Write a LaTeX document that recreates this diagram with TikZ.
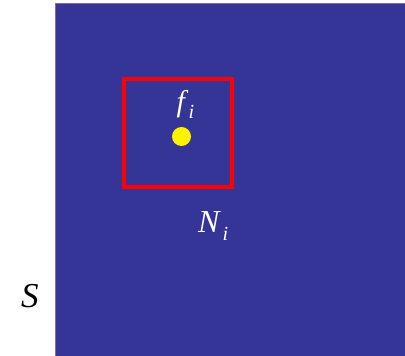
\documentclass[tikz,border=0pt]{standalone}
\usepackage{fontspec}
\newfontfamily\tnr{Liberation Serif}
\definecolor{bgblue}{RGB}{53,53,152}
\definecolor{edgepurple}{RGB}{140,100,170}
\tikzset{
  field/.style={fill=bgblue, draw=edgepurple, line width=0.8pt},
  nbhd/.style={draw=red, line width=4pt},
  pt/.style={circle, fill=yellow, inner sep=0pt, minimum size=19pt},
  lbl/.style={inner sep=0pt, text=white, font=\tnr\itshape\fontsize{32}{36}\selectfont},
  outlbl/.style={inner sep=0pt, text=black, font=\tnr\itshape\fontsize{35}{40}\selectfont}
}
\newcommand{\subi}[1]{\raisebox{-#1}{\fontsize{20}{22}\selectfont i}}
\begin{document}
\begin{tikzpicture}[x=1pt,y=-1pt]
\useasboundingbox (0,0) rectangle (405,356);
\fill[white] (0,0) rectangle (405,356);
\draw[field] (55.4,3.4) rectangle (406,357);
\draw[nbhd] (124,79) rectangle (231.5,187);
\node[pt] (f) at (181.5,136.5) {};
\node[lbl, anchor=base west, font=\tnr\itshape\fontsize{30}{34}\selectfont] (flab) at (176.5,111.5) {f\kern3.5pt\subi{6.5pt}};
\node[lbl, anchor=base west] (nlab) at (198,232.5) {N\kern3pt\subi{7.5pt}};
\node[outlbl, anchor=base west] (slab) at (21,307.5) {S};
\end{tikzpicture}
\end{document}
